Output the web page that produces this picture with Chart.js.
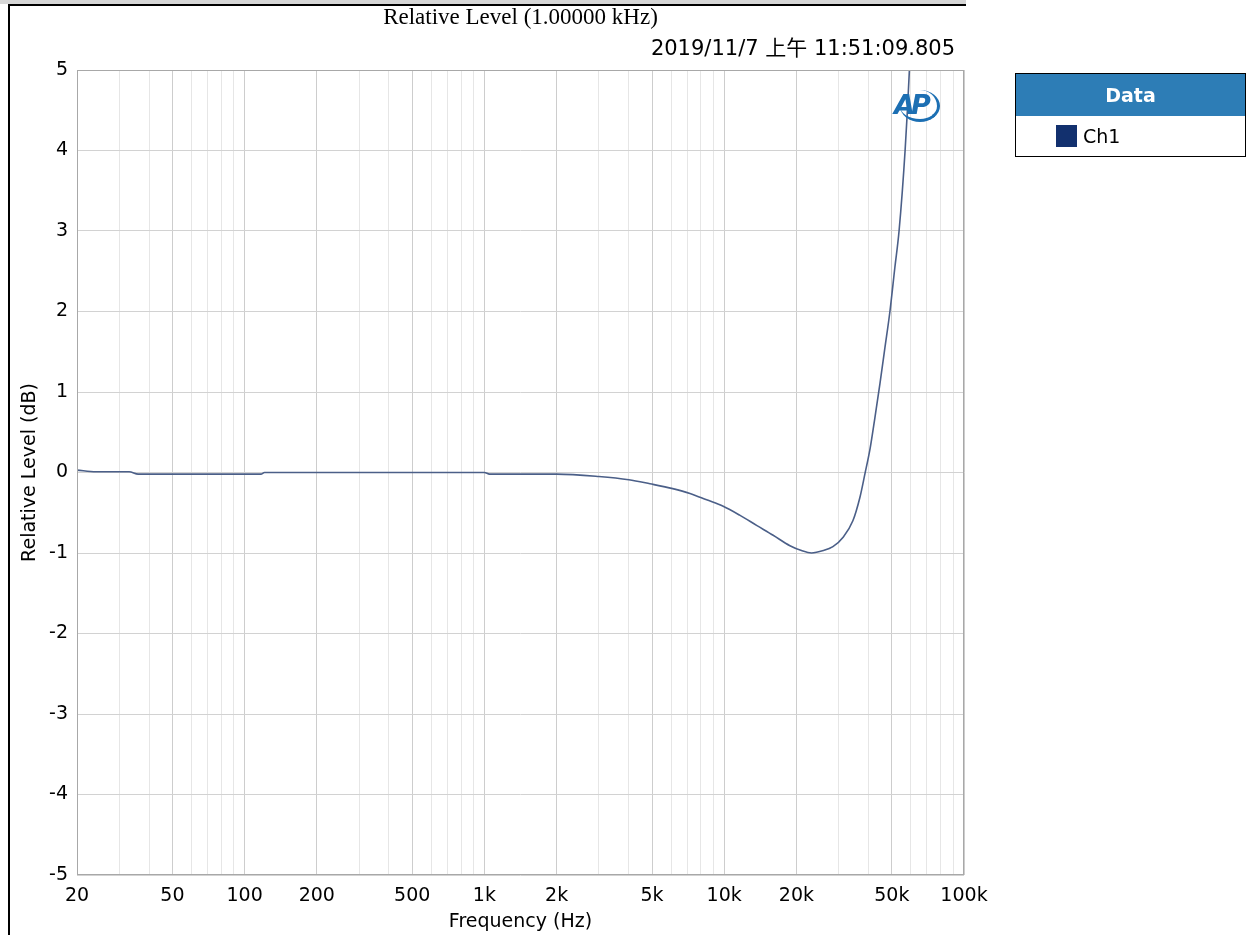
<!DOCTYPE html>
<html>
<head>
<meta charset="utf-8">
<script src="https://cdn.jsdelivr.net/npm/chart.js@4"></script>
<style>
  body { margin: 0; background: #fff; }
  #wrap { position: relative; width: 1250px; height: 935px; overflow: hidden; }
  #grafico { position: absolute; left: 0; top: 0; }
  .topbar { position: absolute; left: 0; top: 0; width: 966px; height: 4px; background: #d6d6d6; }
  .topline { position: absolute; left: 8px; top: 4px; width: 958px; height: 2px; background: #000; }
  .leftline { position: absolute; left: 8px; top: 4px; width: 2px; height: 931px; background: #000; }
  .legenda { position: absolute; left: 1015px; top: 73px; width: 229px; height: 82px; border: 1px solid #000; background: #fff;
             font-family: "DejaVu Sans", sans-serif; }
  .legenda .cab { height: 42px; background: #2d7db6; color: #fff; font-weight: bold; font-size: 19px; text-align: center; line-height: 42px; }
  .legenda .linha { height: 40px; display: flex; align-items: center; padding-left: 40px; font-size: 19px; color: #000; }
  .legenda .quad { width: 21px; height: 22px; background: #12306e; margin-right: 6px; }
  .logo { position: absolute; left: 892px; top: 88px; width: 52px; height: 38px; }
  .logo span { position: absolute; left: 2px; top: 1px; font: italic bold 27px "DejaVu Sans", sans-serif; color: #1c6fb3; letter-spacing: -4px; }
  .logo .arco { position: absolute; left: 8px; top: 2px; width: 40px; height: 32px; border-radius: 50%;
                border-right: 3px solid #1c6fb3; border-bottom: 3px solid #1c6fb3; box-sizing: border-box; }
</style>
</head>
<body>
<div id="wrap">
  <canvas id="grafico" width="1250" height="935"></canvas>
  <div class="topbar"></div>
  <div class="topline"></div>
  <div class="leftline"></div>
  <div class="logo"><div class="arco"></div><span>AP</span></div>
  <div class="legenda">
    <div class="cab">Data</div>
    <div class="linha"><div class="quad"></div>Ch1</div>
  </div>
</div>
<script>
let ctx = document.getElementById('grafico')

// Textos do gráfico
const titulo = 'Relative Level (1.00000 kHz)'
const dataHora = '2019/11/7 上午 11:51:09.805'
const tituloX = 'Frequency (Hz)'
const tituloY = 'Relative Level (dB)'

// Curva Ch1 (frequência em Hz, nível em dB)
const freqs = [20, 24, 33, 36, 117, 121, 1000, 1050, 2000, 3000, 4000, 4900, 6100, 7200, 8450,
               9900, 11600, 13700, 16000, 18800, 21000, 23100, 25900, 28400, 31400, 34400, 36800, 38600,
               40600, 42500, 44600, 46800, 49100, 51500, 53600, 56800, 59200, 61000]
const niveis = [0.03, 0.01, 0.01, -0.02, -0.02, 0.0, 0.0, -0.02, -0.02, -0.05, -0.09, -0.14, -0.20, -0.26, -0.34,
                -0.42, -0.53, -0.66, -0.78, -0.91, -0.97, -1.00, -0.97, -0.92, -0.80, -0.60, -0.31, -0.02,
                0.30, 0.68, 1.10, 1.55, 2.00, 2.55, 3.00, 4.00, 5.00, 6.00]

// Linhas de grade do eixo X e rótulos
const gradeX = [20, 30, 40, 50, 60, 70, 80, 90, 100, 200, 300, 400, 500, 600, 700, 800, 900,
                1000, 2000, 3000, 4000, 5000, 6000, 7000, 8000, 9000,
                10000, 20000, 30000, 40000, 50000, 60000, 70000, 80000, 90000, 100000]
const rotulosX = { 20: '20', 50: '50', 100: '100', 200: '200', 500: '500', 1000: '1k', 2000: '2k',
                   5000: '5k', 10000: '10k', 20000: '20k', 50000: '50k', 100000: '100k' }

const fonte = { family: '"DejaVu Sans", sans-serif', size: 19 }

const moldura = {
  id: 'moldura',
  afterDraw(chart) {
    const c = chart.ctx
    const a = chart.chartArea
    c.save()
    c.strokeStyle = '#a8a8a8'
    c.lineWidth = 1
    c.strokeRect(a.left + 0.5, a.top + 0.5, a.right - a.left - 1, a.bottom - a.top - 1)
    c.fillStyle = '#000'
    c.textBaseline = 'middle'
    c.font = '23px "Liberation Serif", serif'
    c.textAlign = 'center'
    c.fillText(titulo, (a.left + a.right) / 2, 18)
    c.font = '21px "DejaVu Sans", "Noto Sans CJK TC", sans-serif'
    c.textAlign = 'right'
    c.fillText(dataHora, a.right - 9, 50)
    c.restore()
  }
}

const data = {
  datasets: [{
    label: 'Ch1',
    data: freqs.map((f, i) => ({ x: f, y: niveis[i] })),
    borderColor: '#4b5f88',
    borderWidth: 1.6,
    pointRadius: 0,
    fill: false,
    cubicInterpolationMode: 'monotone'
  }]
}

const config = {
  type: 'line',
  data,
  options: {
    responsive: false,
    animation: false,
    layout: { padding: { left: 0, top: 70, right: 286, bottom: 0 } },
    plugins: {
      legend: { display: false },
      tooltip: { enabled: false }
    },
    scales: {
      x: {
        type: 'logarithmic',
        min: 20,
        max: 100000,
        afterBuildTicks: (scale) => { scale.ticks = gradeX.map(v => ({ value: v })) },
        afterFit: (scale) => { scale.height = 60 },
        ticks: {
          autoSkip: false,
          maxRotation: 0,
          minRotation: 0,
          padding: 10,
          color: '#000',
          font: fonte,
          callback: (value) => rotulosX[value] || ''
        },
        grid: {
          drawTicks: false,
          color: (c) => (rotulosX[c.tick && c.tick.value] ? '#cdcdcd' : '#e6e6e6')
        },
        border: { display: false },
        title: { display: true, text: tituloX, color: '#000', font: fonte, padding: { top: 0, bottom: 2 } }
      },
      y: {
        min: -5,
        max: 5,
        afterFit: (scale) => { scale.width = 77 },
        ticks: { stepSize: 1, padding: 9, color: '#000', font: fonte },
        grid: { drawTicks: false, color: '#d2d2d2' },
        border: { display: false },
        title: { display: true, text: tituloY, color: '#000', font: fonte, padding: { top: 19, bottom: 0 } }
      }
    }
  },
  plugins: [moldura]
}

const graph = new Chart(ctx, config)
</script>
</body>
</html>
